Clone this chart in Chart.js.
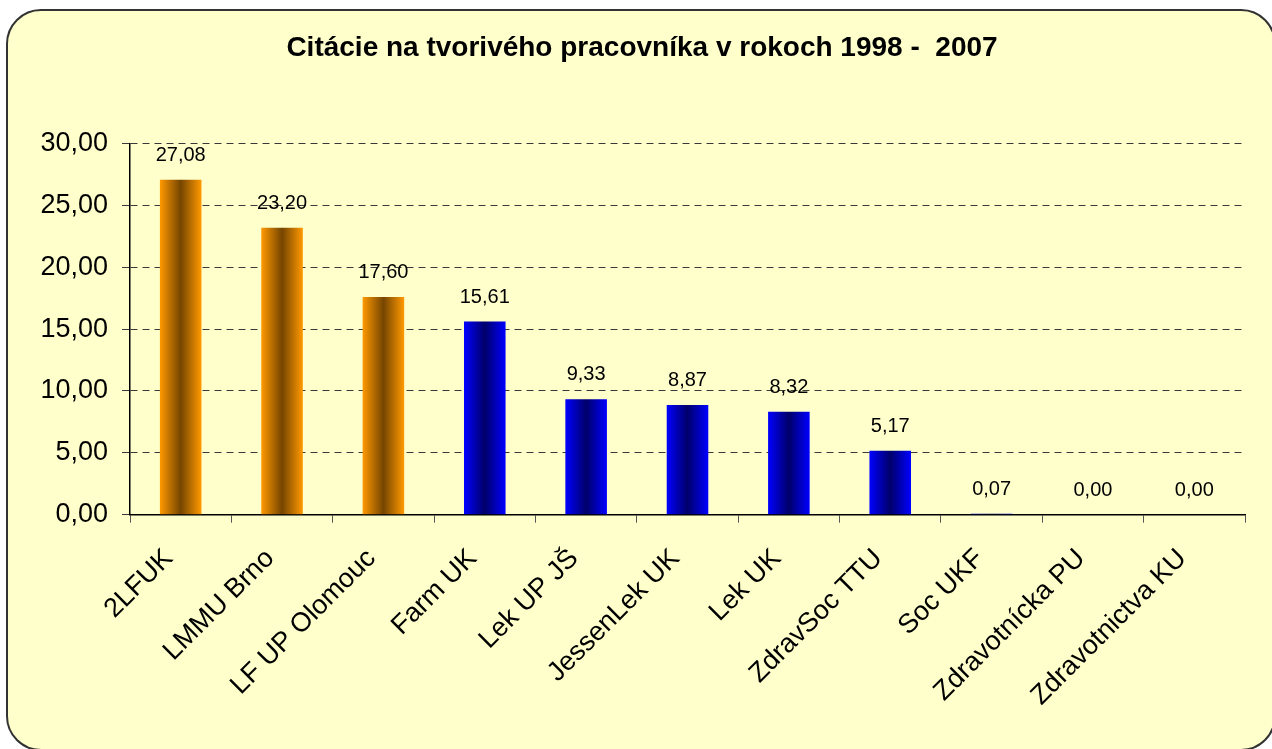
<!DOCTYPE html>
<html>
<head>
<meta charset="utf-8">
<script src="https://cdn.jsdelivr.net/npm/chart.js@4/dist/chart.umd.min.js"></script>
<style>
  html, body { margin: 0; padding: 0; background: #fff; }
  #wrap { width: 1272px; height: 749px; }
</style>
</head>
<body>
<div id="wrap"><canvas id="chartCitacie"></canvas></div>
<script>
const categories = ['2LFUK', 'LMMU Brno', 'LF UP Olomouc', 'Farm UK', 'Lek UP JŠ', 'JessenLek UK',
    'Lek UK', 'ZdravSoc TTU', 'Soc UKF', 'Zdravotnícka PU', 'Zdravotnictva KU'];
const citacie = [27.08, 23.20, 17.60, 15.61, 9.33, 8.87, 8.32, 5.17, 0.07, 0.00, 0.00];
// first three bars are highlighted (orange), the rest blue
const zvyraznene = [true, true, true, false, false, false, false, false, false, false, false];
const yTicks = [0, 5, 10, 15, 20, 25, 30];

const FONT = '"Liberation Sans", Arial, sans-serif';
const BAR_PCT = 0.41;

const formatCislo = (v) => v.toFixed(2).replace('.', ',');

const gradientStlpca = (ctx) => {
    const chart = ctx.chart;
    const area = chart.chartArea;
    const oranz = zvyraznene[ctx.dataIndex];
    const okraj = oranz ? '#FF9900' : '#0000FF';
    const stred = oranz ? '#754500' : '#00006A';
    if (!area || !chart.scales.x) return okraj;
    const x = chart.scales.x.getPixelForValue(ctx.dataIndex);
    const w = (area.right - area.left) / categories.length * BAR_PCT;
    const g = chart.ctx.createLinearGradient(x - w / 2, 0, x + w / 2, 0);
    g.addColorStop(0, okraj);
    g.addColorStop(0.5, stred);
    g.addColorStop(1, okraj);
    return g;
};

// rounded yellow panel behind everything
const panelPlugin = {
    id: 'panel',
    beforeDraw(chart) {
        const c = chart.ctx;
        const x = 7, y = 10, w = 1268, h = 740, r = 34;
        c.save();
        c.beginPath();
        c.moveTo(x + r, y);
        c.lineTo(x + w - r, y);
        c.arcTo(x + w, y, x + w, y + r, r);
        c.lineTo(x + w, y + h - r);
        c.arcTo(x + w, y + h, x + w - r, y + h, r);
        c.lineTo(x + r, y + h);
        c.arcTo(x, y + h, x, y + h - r, r);
        c.lineTo(x, y + r);
        c.arcTo(x, y, x + r, y, r);
        c.closePath();
        c.fillStyle = '#FFFFCC';
        c.fill();
        c.lineWidth = 2;
        c.strokeStyle = '#333333';
        c.stroke();
        c.restore();
    }
};

// value labels above bars
const hodnotyPlugin = {
    id: 'hodnoty',
    afterDatasetsDraw(chart) {
        const c = chart.ctx;
        const meta = chart.getDatasetMeta(0);
        c.save();
        c.font = '20px ' + FONT;
        c.fillStyle = '#000';
        c.textAlign = 'center';
        c.textBaseline = 'alphabetic';
        meta.data.forEach((bar, i) => {
            c.fillText(formatCislo(citacie[i]), bar.x, bar.y - 19);
        });
        c.restore();
    }
};

const chart = new Chart(document.getElementById('chartCitacie'), {
    type: 'bar',
    data: {
        labels: categories,
        datasets: [{
            label: 'Citácie',
            data: citacie,
            backgroundColor: gradientStlpca,
            borderWidth: 0,
            barPercentage: BAR_PCT,
            categoryPercentage: 1
        }]
    },
    options: {
        responsive: true,
        maintainAspectRatio: false,
        animation: false,
        layout: { padding: { left: 39, right: 27, top: 0, bottom: 17 } },
        plugins: {
            legend: { display: false },
            tooltip: { enabled: false },
            title: {
                display: true,
                text: 'Citácie na tvorivého pracovníka v rokoch 1998 -  2007',
                color: '#000',
                font: { family: FONT, size: 28, weight: 'bold' },
                padding: { top: 31, bottom: 79 }
            }
        },
        scales: {
            x: {
                grid: {
                    display: true,
                    drawOnChartArea: false,
                    drawTicks: true,
                    tickLength: 8,
                    tickColor: '#555',
                    offset: true
                },
                border: { display: true, color: '#000', width: 1.5 },
                ticks: {
                    autoSkip: false,
                    maxRotation: 45,
                    minRotation: 45,
                    padding: 20,
                    labelOffset: -12,
                    color: '#000',
                    font: { family: FONT, size: 27 }
                }
            },
            y: {
                min: 0,
                max: 30,
                afterBuildTicks: (axis) => { axis.ticks = yTicks.map(v => ({ value: v })); },
                afterFit: (axis) => { axis.width = 91; },
                grid: {
                    color: '#3a3a3a',
                    lineWidth: 1,
                    tickLength: 8,
                    tickColor: '#3a3a3a'
                },
                border: { display: true, color: '#000', width: 1.5, dash: [7, 5] },
                ticks: {
                    padding: 14,
                    color: '#000',
                    font: { family: FONT, size: 27 },
                    callback: (v) => formatCislo(v)
                }
            }
        }
    },
    plugins: [panelPlugin, hodnotyPlugin]
});
</script>
</body>
</html>
